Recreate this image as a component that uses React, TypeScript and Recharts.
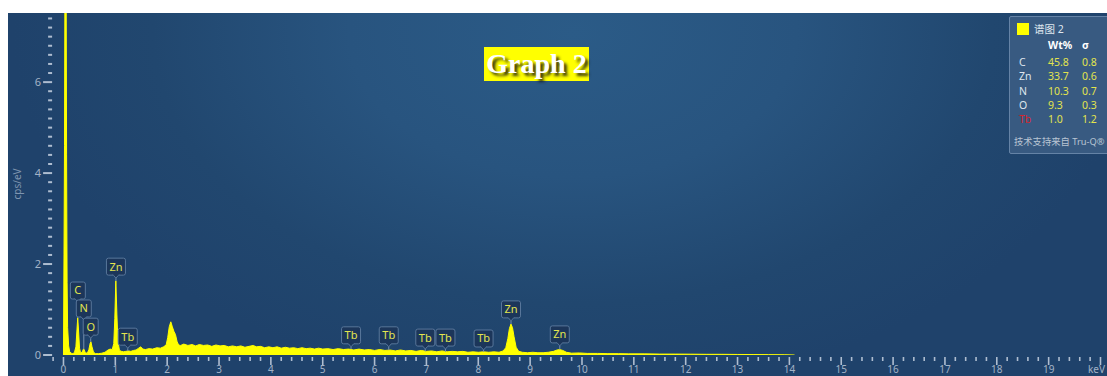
import React from 'react';
import { ComposedChart, Area, XAxis, YAxis, ReferenceDot, ReferenceLine } from 'recharts';

// EDS spectrum, split into energy bands: [energy keV, intensity cps/eV]
const lowEnergyBand: [number, number][] = [
  [0.0, 0.0], [0.01, 2.2], [0.02, 4.6], [0.03, 9.0], [0.04, 14.0], [0.05, 9.0], [0.06, 4.4],
  [0.07, 1.6], [0.08, 0.6], [0.1, 0.2], [0.12, 0.07], [0.15, 0.04], [0.18, 0.03], [0.21, 0.05],
  [0.24, 0.18], [0.26, 0.55], [0.275, 0.82], [0.29, 0.55], [0.31, 0.15], [0.33, 0.05],
  [0.36, 0.06], [0.385, 0.13], [0.4, 0.12], [0.42, 0.05], [0.46, 0.04], [0.49, 0.12],
  [0.515, 0.26], [0.53, 0.29], [0.55, 0.18], [0.58, 0.06], [0.62, 0.03], [0.68, 0.03],
  [0.74, 0.04], [0.8, 0.06], [0.86, 0.11], [0.9, 0.13], [0.94, 0.12], [0.97, 0.25],
  [0.99, 0.8], [1.01, 1.63], [1.03, 0.9], [1.05, 0.3], [1.08, 0.1], [1.12, 0.08], [1.16, 0.07],
];

const midEnergyBand: [number, number][] = [
  [1.2, 0.08], [1.25, 0.09], [1.3, 0.08], [1.35, 0.1], [1.4, 0.11], [1.45, 0.15], [1.49, 0.18],
  [1.53, 0.13], [1.58, 0.12], [1.65, 0.14], [1.72, 0.13], [1.8, 0.16], [1.87, 0.15],
  [1.93, 0.18], [1.98, 0.22], [2.01, 0.38], [2.04, 0.62], [2.07, 0.73], [2.1, 0.62],
  [2.13, 0.52], [2.16, 0.45], [2.19, 0.3], [2.22, 0.22], [2.26, 0.21], [2.32, 0.24],
  [2.4, 0.21], [2.48, 0.23], [2.55, 0.2], [2.62, 0.23], [2.7, 0.21], [2.78, 0.22],
  [2.86, 0.19], [2.94, 0.22], [3.02, 0.2], [3.1, 0.21], [3.18, 0.18], [3.26, 0.2],
  [3.34, 0.18], [3.42, 0.2], [3.5, 0.17], [3.58, 0.19], [3.66, 0.21], [3.72, 0.18],
  [3.8, 0.19], [3.88, 0.16], [3.96, 0.18], [4.04, 0.16], [4.12, 0.18], [4.2, 0.15],
  [4.28, 0.17], [4.36, 0.15], [4.44, 0.16], [4.52, 0.14], [4.6, 0.16], [4.68, 0.14],
  [4.76, 0.15], [4.84, 0.13], [4.92, 0.15],
];

const highEnergyBand: [number, number][] = [
  [5.0, 0.13], [5.1, 0.14], [5.2, 0.12], [5.3, 0.14], [5.4, 0.12], [5.5, 0.13], [5.6, 0.11],
  [5.7, 0.13], [5.8, 0.11], [5.9, 0.12], [6.0, 0.1], [6.1, 0.12], [6.2, 0.1], [6.3, 0.11],
  [6.4, 0.09], [6.5, 0.11], [6.6, 0.09], [6.7, 0.1], [6.8, 0.08], [6.9, 0.1], [7.0, 0.08],
  [7.1, 0.09], [7.2, 0.07], [7.3, 0.09], [7.4, 0.07], [7.5, 0.08], [7.6, 0.07], [7.7, 0.08],
  [7.8, 0.06], [7.9, 0.07], [8.0, 0.06], [8.1, 0.07], [8.2, 0.06], [8.3, 0.07], [8.4, 0.06],
  [8.48, 0.09], [8.53, 0.16], [8.57, 0.36], [8.6, 0.58], [8.63, 0.68], [8.66, 0.6],
  [8.69, 0.4], [8.73, 0.17], [8.78, 0.08], [8.85, 0.06], [8.95, 0.05], [9.05, 0.06],
  [9.15, 0.05], [9.25, 0.05], [9.35, 0.06], [9.45, 0.08], [9.52, 0.11], [9.57, 0.12],
  [9.63, 0.1], [9.7, 0.06], [9.8, 0.04], [9.95, 0.045], [10.1, 0.035], [10.3, 0.035],
  [10.5, 0.03], [10.7, 0.03], [10.9, 0.025], [11.2, 0.025], [11.5, 0.02], [11.8, 0.02],
  [12.1, 0.018], [12.4, 0.015], [12.7, 0.015], [13.0, 0.012], [13.3, 0.01], [13.6, 0.008],
  [13.9, 0.006], [14.1, 0.0],
];

// Axis ticks and labels
const majorKeV = [0, 1, 2, 3, 4, 5, 6, 7, 8, 9, 10, 11, 12, 13, 14, 15, 16, 17, 18, 19];
const axisEndKeV = 20;
const axisUnitLabel = 'keV';
const yLabelledTicks = [0, 2, 4, 6];
const yAxisTitle = 'cps/eV';

// Element line markers
const markerElements = ['C', 'N', 'O', 'Zn', 'Tb', 'Tb', 'Tb', 'Tb', 'Tb', 'Tb', 'Zn', 'Zn'];
const markerKeV = [0.277, 0.392, 0.525, 1.012, 1.24, 5.546, 6.273, 6.978, 7.367, 8.102, 8.631, 9.572];
const markerLevel = [1.165, 0.77, 0.37, 1.69, 0.15, 0.18, 0.18, 0.13, 0.13, 0.11, 0.75, 0.2];

// Quantification table
const spectrumName = '谱图 2';
const quantElements = ['C', 'Zn', 'N', 'O', 'Tb'];
const quantWt = ['45.8', '33.7', '10.3', '9.3', '1.0'];
const quantSigma = ['0.8', '0.6', '0.7', '0.3', '1.2'];
const quantFlagged = ['Tb'];
const footerText = '技术支持来自 Tru-Q®';
const titleText = 'Graph 2';

const spectrum = [...lowEnergyBand, ...midEnergyBand, ...highEnergyBand].map(([keV, cps]) => ({ keV, cps }));

const xTicks: number[] = [];
for (let i = -1; i <= axisEndKeV * 5; i++) xTicks.push(Number((i * 0.2).toFixed(1)));
const yTicks: number[] = [];
for (let i = 0; i <= 37; i++) yTicks.push(Number((i * 0.2).toFixed(1)));

const spectrumAt = (e: number) => {
  let best = spectrum[0];
  for (const p of spectrum) if (Math.abs(p.keV - e) < Math.abs(best.keV - e)) best = p;
  return best.cps;
};

const TICK_COLOR = '#aebdd0';
const LABEL_COLOR = '#a3b3c7';
const SANS = '"Noto Sans", "Open Sans", sans-serif';
const CJK = '"Noto Sans", "Noto Sans CJK SC", sans-serif';

const XTick = (props: any) => {
  const { x, y, payload } = props;
  const v = payload.value as number;
  const major = Math.abs(v - Math.round(v)) < 1e-6 && v >= 0;
  const isEnd = Math.abs(v - axisEndKeV) < 1e-6;
  const label = isEnd ? axisUnitLabel : majorKeV.includes(Math.round(v)) && major ? String(Math.round(v)) : null;
  return (
    <g>
      <line x1={x} x2={x} y1={y + 2} y2={y + (major ? 10 : 6)} stroke={TICK_COLOR} strokeWidth={1.6} />
      {label !== null && (
        <text
          x={isEnd ? 1105 : x}
          y={y + 17.5}
          textAnchor={isEnd ? 'end' : 'middle'}
          fill={LABEL_COLOR}
          fontSize={10}
          fontFamily={SANS}
        >
          {label}
        </text>
      )}
    </g>
  );
};

const YTick = (props: any) => {
  const { x, y, payload } = props;
  const v = payload.value as number;
  const labelled = yLabelledTicks.some((t) => Math.abs(t - v) < 1e-6);
  return (
    <g>
      <line x1={x - (labelled ? 10 : 5)} x2={x - 1} y1={y} y2={y} stroke={TICK_COLOR} strokeWidth={2} />
      {labelled && (
        <text x={x - 12} y={y} dy="0.35em" textAnchor="end" fill={LABEL_COLOR} fontSize={11} fontFamily={SANS}>
          {v}
        </text>
      )}
    </g>
  );
};

const markerShape = (el: string) => (props: any) => {
  const { cx, cy } = props;
  const w = el.length > 1 ? 19 : 15;
  const fill = '#1c365a';
  const edge = '#58769a';
  return (
    <g>
      <rect x={cx - w / 2} y={cy - 20} width={w} height={17} rx={2} fill={fill} stroke={edge} strokeWidth={1} />
      <path d={`M${cx - 3},${cy - 3.5} L${cx},${cy} L${cx + 3},${cy - 3.5}`} fill={fill} stroke={edge} strokeWidth={1} />
      <rect x={cx - 2.5} y={cy - 4} width={5} height={1.2} fill={fill} />
      <text x={cx} y={cy - 11.5} dy="0.36em" textAnchor="middle" fontSize={11} fill="#e4e64f" fontFamily={SANS}>
        {el}
      </text>
    </g>
  );
};

export default function App() {
  return (
    <div style={{ position: 'fixed', left: 0, top: 0, width: 1107, height: 376, background: '#ffffff', overflow: 'hidden' }}>
      <div
        style={{
          position: 'absolute',
          left: 8,
          top: 13,
          width: 1099,
          height: 363,
          background:
            'radial-gradient(ellipse 560px 360px at 565px 20px, #2b5b87 0%, #28547f 40%, #21476f 75%, #1f426b 100%)',
        }}
      />
      <div
        style={{
          position: 'absolute',
          left: 17,
          top: 184,
          transform: 'translate(-50%, -50%) rotate(-90deg)',
          color: '#7f95b0',
          fontSize: 10,
          fontFamily: SANS,
          whiteSpace: 'nowrap',
        }}
      >
        {yAxisTitle}
      </div>
      <div style={{ position: 'absolute', left: 0, top: 0 }}>
        <ComposedChart width={1107} height={376} data={spectrum} margin={{ top: 13, right: 6.5, bottom: 0, left: 0 }}>
          <XAxis
            type="number"
            dataKey="keV"
            domain={[-0.2, axisEndKeV]}
            ticks={xTicks}
            interval={0}
            tick={XTick}
            tickSize={0}
            tickMargin={0}
            tickLine={false}
            axisLine={false}
            height={21}
            allowDataOverflow
          />
          <YAxis
            type="number"
            domain={[0, 7.52]}
            ticks={yTicks}
            interval={0}
            tick={YTick}
            tickSize={0}
            tickMargin={0}
            tickLine={false}
            axisLine={false}
            width={53.1}
            allowDataOverflow
          />
          <Area
            type="linear"
            dataKey="cps"
            stroke="#ffff00"
            strokeWidth={1}
            fill="#ffff00"
            fillOpacity={1}
            baseValue={0}
            dot={false}
            activeDot={false}
            isAnimationActive={false}
          />
          {markerKeV.map((e, i) =>
            markerLevel[i] > spectrumAt(e) ? (
              <ReferenceLine
                key={`seg-${i}`}
                segment={[
                  { x: e, y: markerLevel[i] },
                  { x: e, y: spectrumAt(e) },
                ]}
                stroke="#7890ad"
                strokeWidth={1}
                ifOverflow="visible"
              />
            ) : null
          )}
          {markerKeV.map((e, i) => (
            <ReferenceDot
              key={`mk-${i}`}
              x={e}
              y={markerLevel[i]}
              r={0}
              ifOverflow="visible"
              shape={markerShape(markerElements[i])}
            />
          ))}
        </ComposedChart>
      </div>

      {/* title badge */}
      <div
        style={{
          position: 'absolute',
          left: 484,
          top: 47,
          width: 105,
          height: 34,
          background: '#ffff00',
          color: '#ffffff',
          fontFamily: '"Liberation Serif", "Times New Roman", serif',
          fontWeight: 'bold',
          fontSize: 28,
          lineHeight: '34px',
          textAlign: 'center',
          textShadow: '3px 3px 3px rgba(20,20,20,0.85)',
          whiteSpace: 'nowrap',
        }}
      >
        {titleText}
      </div>

      {/* quantification panel */}
      <div
        style={{
          position: 'absolute',
          left: 1009,
          top: 16,
          width: 110,
          height: 136,
          background: '#385a81',
          border: '1px solid #6583a6',
          borderRadius: 2,
          fontFamily: CJK,
          fontSize: 10.5,
          color: '#dfe6ee',
        }}
      >
        <div style={{ position: 'absolute', left: 7, top: 6, width: 12, height: 12, background: '#ffff00' }} />
        <div style={{ position: 'absolute', left: 24, top: 5, lineHeight: '14px', fontSize: 10.5 }}>{spectrumName}</div>
        <div style={{ position: 'absolute', left: 38, top: 21, lineHeight: '14px', fontWeight: 'bold', color: '#ffffff' }}>Wt%</div>
        <div style={{ position: 'absolute', left: 72, top: 21, lineHeight: '14px', fontWeight: 'bold', color: '#ffffff' }}>σ</div>
        {quantElements.map((el, i) => (
          <React.Fragment key={el}>
            <div
              style={{
                position: 'absolute',
                left: 9,
                top: 38 + i * 14.3,
                lineHeight: '14px',
                color: quantFlagged.includes(el) ? '#d5262c' : '#dfe6ee',
              }}
            >
              {el}
            </div>
            <div style={{ position: 'absolute', left: 38, top: 38 + i * 14.3, lineHeight: '14px', color: '#e2e44d' }}>{quantWt[i]}</div>
            <div style={{ position: 'absolute', left: 72, top: 38 + i * 14.3, lineHeight: '14px', color: '#e2e44d' }}>{quantSigma[i]}</div>
          </React.Fragment>
        ))}
        <div style={{ position: 'absolute', left: 4, top: 118, lineHeight: '14px', color: '#b9c5d3', whiteSpace: 'nowrap', fontSize: 9.3 }}>
          {footerText}
        </div>
      </div>
    </div>
  );
}
